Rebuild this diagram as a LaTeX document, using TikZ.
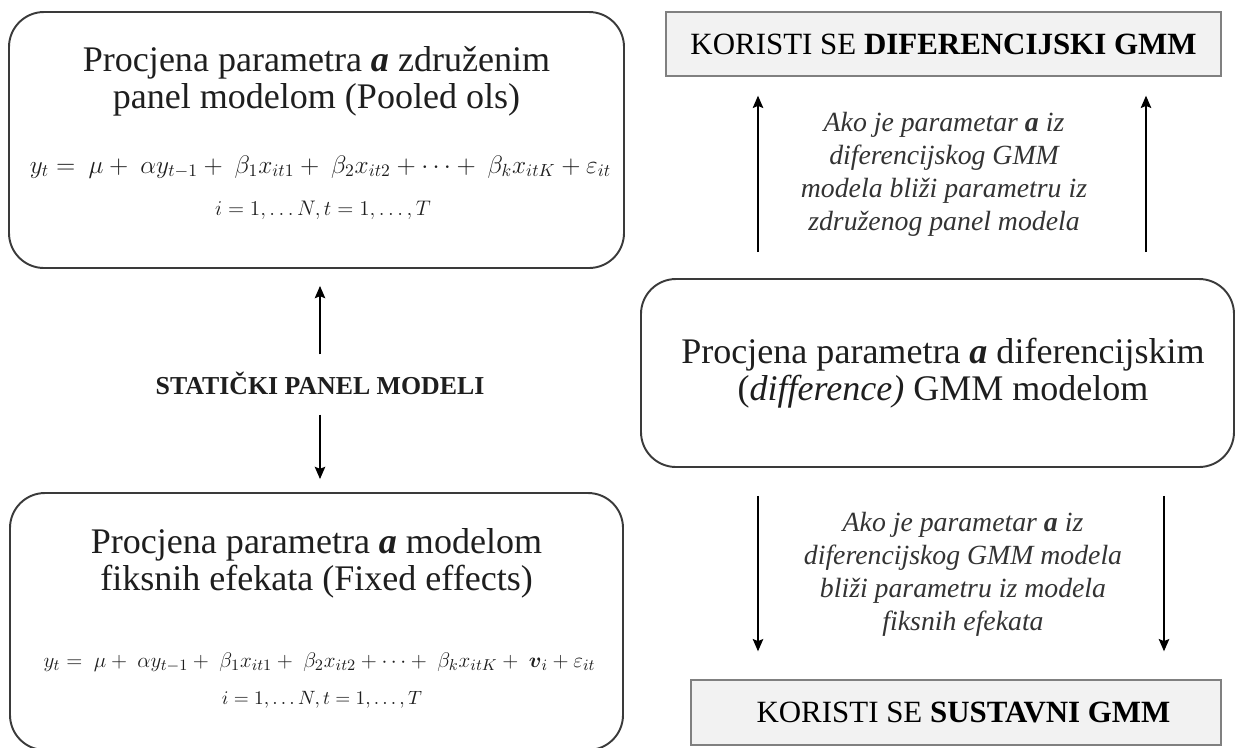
\documentclass[tikz,border=0pt]{standalone}
\usepackage{amsmath}
\usepackage{fontspec}
\setmainfont{Liberation Serif}
\usetikzlibrary{arrows.meta, positioning, calc}

\begin{document}
\begin{tikzpicture}[
    x=1cm, y=1cm,
    >={Stealth[length=7pt, width=6pt, inset=1.2pt]},
    roundbox/.style={draw=boxline, line width=1.1pt, rounded corners=0.7cm, inner sep=0pt},
    greybox/.style={draw=greyline, fill=greyfill, line width=0.8pt, inner sep=0pt,
        font=\fontsize{17.6}{20}\selectfont},
    boxtitle/.style={align=center, text=textdark, font=\fontsize{20.5}{21.2}\selectfont},
    note/.style={align=center, text=notetext, font=\fontsize{15.8}{18.8}\selectfont\itshape},
    eq/.style={text=textdark, font=\fontsize{14}{18}\selectfont},
    arr/.style={->, line width=0.8pt}
]
    % canvas: 1238 x 747 px, 1 px = 0.02 cm
    \clip (0, 0) rectangle (24.76, -14.94);

    % ==========================================
    % colours
    % ==========================================
    \definecolor{boxline}{HTML}{3A3A3A}    % okviri
    \definecolor{greyline}{HTML}{808080}   % sivi okviri
    \definecolor{greyfill}{HTML}{F2F2F2}   % sivi fill
    \definecolor{textdark}{HTML}{1E1E1E}
    \definecolor{notetext}{HTML}{333333}

    % ==========================================
    % lijevi stupac: staticki panel modeli
    % ==========================================
    % 1. Pooled OLS
    \node[roundbox, minimum width=12.3cm, minimum height=5.12cm] (pooled) at (6.33, -2.80) {};
    \node[boxtitle] (pooledTitle) at (6.33, -1.63)
        {Procjena parametra \textbf{\textit{a}} združenim\\panel modelom (Pooled ols)};
    \node[eq] (pooledEq) at (6.41, -3.34)
        {$y_t =\ \mu +\ \alpha y_{t-1} + \ \beta_1 x_{it1} +\ \beta_2 x_{it2} + \cdots +\ \beta_k x_{itK} + \varepsilon_{it}$};
    \node[eq, font=\fontsize{12.2}{16}\selectfont] (pooledIdx) at (6.46, -4.20)
        {$i = 1, \ldots N, t = 1, \ldots, T$};

    % 2. tekst u sredini
    \node[inner sep=0pt, text=textdark, font=\fontsize{14.7}{17}\selectfont\bfseries]
        (static) at (6.40, -7.66) {STATIČKI PANEL MODELI};

    % 3. Fixed effects
    \node[roundbox, minimum width=12.26cm, minimum height=5.14cm] (fixed) at (6.33, -12.43) {};
    \node[boxtitle] (fixedTitle) at (6.33, -11.27)
        {Procjena parametra \textbf{\textit{a}} modelom\\fiksnih efekata (Fixed effects)};
    \node[eq, font=\fontsize{12.9}{16}\selectfont] (fixedEq) at (6.39, -13.24)
        {$y_t =\ \mu +\ \alpha y_{t-1} +\ \beta_1 x_{it1} +\ \beta_2 x_{it2} + \cdots +\ \beta_k x_{itK} +\ \boldsymbol{v}_i + \varepsilon_{it}$};
    \node[eq, font=\fontsize{11.2}{16}\selectfont] (fixedIdx) at (6.44, -14.00)
        {$i = 1, \ldots N, t = 1, \ldots, T$};

    % strelice
    \draw[arr, shorten <=0.34cm, shorten >=0.34cm] (static.north) -- (static.north |- pooled.south);
    \draw[arr, shorten <=0.40cm, shorten >=0.26cm] (static.south) -- (static.south |- fixed.north);

    % ==========================================
    % desni stupac: GMM
    % ==========================================
    \node[greybox, minimum width=11.1cm, minimum height=1.28cm] (korDiff) at (18.87, -0.88)
        {KORISTI SE \textbf{DIFERENCIJSKI GMM}};

    \node[roundbox, minimum width=11.86cm, minimum height=3.76cm] (diff) at (18.75, -7.46) {};
    \node[boxtitle] (diffTitle) at (18.86, -7.47)
        {Procjena parametra \textbf{\textit{a}} diferencijskim\\(\textit{difference)} GMM modelom};

    \node[greybox, minimum width=10.6cm, minimum height=1.3cm] (korSys) at (19.12, -14.25)
        {\hspace{0.3cm}KORISTI SE \textbf{SUSTAVNI GMM}};

    % uvjeti
    \node[note] (upNote) at (18.88, -3.49)
        {Ako je parametar \textbf{a} iz\\diferencijskog GMM\\modela bliži parametru iz\\združenog panel modela};
    \node[note] (downNote) at (19.26, -11.49)
        {Ako je parametar \textbf{a} iz\\diferencijskog GMM modela\\bliži parametru iz modela\\fiksnih efekata};

    % x polozaji strelica
    \coordinate (colL)   at (15.16, 0);
    \coordinate (colRup) at (22.92, 0);
    \coordinate (colRdn) at (23.28, 0);

    \draw[arr, shorten <=0.52cm, shorten >=0.38cm] (diff.north -| colL) -- (korDiff.south -| colL);
    \draw[arr, shorten <=0.52cm, shorten >=0.38cm] (diff.north -| colRup) -- (korDiff.south -| colRup);
    \draw[arr, shorten <=0.56cm, shorten >=0.56cm] (diff.south -| colL) -- (korSys.north -| colL);
    \draw[arr, shorten <=0.56cm, shorten >=0.56cm] (diff.south -| colRdn) -- (korSys.north -| colRdn);

\end{tikzpicture}
\end{document}
